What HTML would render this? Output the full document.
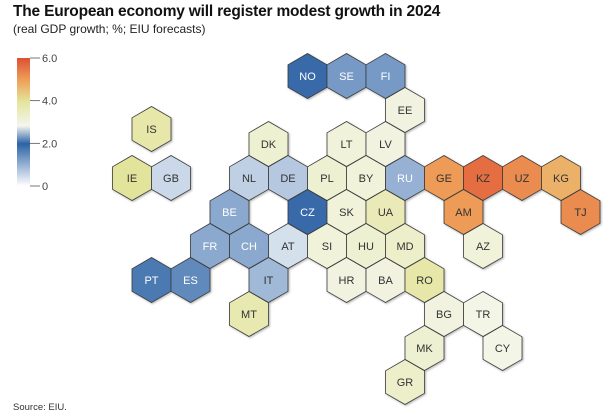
<!DOCTYPE html>
<html><head><meta charset="utf-8">
<style>
body{margin:0;background:#fff;width:612px;height:416px;overflow:hidden;font-family:"Liberation Sans",sans-serif;}
#t{position:absolute;left:13px;top:3px;font-size:15.5px;font-weight:bold;color:#111;letter-spacing:-0.2px}
#s{position:absolute;left:13px;top:22px;font-size:12px;color:#222}
#src{position:absolute;left:13px;top:402px;font-size:9.5px;color:#333}
</style></head><body>
<div id="t">The European economy will register modest growth in 2024</div>
<div id="s">(real GDP growth; %; EIU forecasts)</div>
<div id="src">Source: EIU.</div>
<svg id="svg" width="612" height="416" style="position:absolute;left:0;top:0">
<defs>
<linearGradient id="cb" x1="0" y1="1" x2="0" y2="0">
<stop offset="0" stop-color="#ffffff"/><stop offset="0.33" stop-color="#2c63a6"/>
<stop offset="0.47" stop-color="#f4f6ee"/><stop offset="0.66" stop-color="#e3e49b"/>
<stop offset="0.82" stop-color="#eea35a"/><stop offset="1" stop-color="#de4f35"/>
</linearGradient>
<filter id="sh" x="-20%" y="-20%" width="140%" height="140%"><feDropShadow dx="1" dy="1" stdDeviation="1" flood-opacity="0.3"/></filter>
</defs>
<rect x="17" y="58" width="13" height="128" fill="url(#cb)"/>
<g id="cbt"></g>
<g id="hexes" filter="url(#sh)"></g>
</svg>
<script>
const codes=["NO","SE","FI","EE","IS","DK","LT","LV","IE","GB","NL","DE","PL","BY","RU","GE","KZ","UZ","KG","BE","CZ","SK","UA","AM","TJ","FR","CH","AT","SI","HU","MD","AZ","PT","ES","IT","HR","BA","RO","MT","BG","TR","MK","CY","GR"];
const values=[1.9,1.3,1.3,3.0,3.8,3.2,3.1,3.0,4.0,0.5,0.6,0.7,3.2,3.1,1.0,5.0,5.6,5.2,4.7,1.1,1.9,3.1,3.6,5.0,5.2,1.1,1.1,0.4,3.1,3.2,3.3,3.1,1.7,1.5,0.9,3.0,3.0,3.8,3.7,3.0,2.9,3.2,2.9,3.3];
const cols=[15,17,19,20,7,13,17,19,6,8,12,14,16,18,20,22,24,26,28,11,15,17,19,23,29,10,12,14,16,18,20,24,7,9,13,17,19,21,12,22,24,21,25,20];
const rows=[0,0,0,1,1.56,2,2,2,3,3,3,3,3,3,3,3,3,3,3,4,4,4,4,4,4,5,5,5,5,5,5,5,6,6,6,6,6,6,7,7,7,8,8,9];
const scaleTicks=[0,2,4,6];
const scaleLabels=["0","2.0","4.0","6.0"];
const NS="http://www.w3.org/2000/svg";
const HW=19.5,R=22.5,X0=15,Y0=76,DY=34;
function vy(v){return 186-v/6*128;}
const stops=[[0,[255,255,255]],[2,[44,99,166]],[2.8,[244,246,238]],[4,[227,228,155]],[4.9,[238,163,90]],[6,[222,79,53]]];
function col(v){for(let i=1;i<stops.length;i++){if(v<=stops[i][0]){const a=stops[i-1],b=stops[i],t=(v-a[0])/(b[0]-a[0]);return "rgb("+a[1].map((x,k)=>Math.round(x+(b[1][k]-x)*t)).join(",")+")";}}return "rgb(222,79,53)";}
const g=document.getElementById("hexes");
codes.forEach((c,i)=>{
 const x=X0+cols[i]*HW, y=Y0+rows[i]*DY;
 const pts=[];for(let k=0;k<6;k++){const a=Math.PI/180*(60*k-90);pts.push((x+R*Math.cos(a)).toFixed(1)+","+(y+R*Math.sin(a)).toFixed(1));}
 const p=document.createElementNS(NS,"polygon");
 p.setAttribute("points",pts.join(" "));p.setAttribute("fill",col(values[i]));p.setAttribute("stroke","#3a3a3a");p.setAttribute("stroke-width","0.8");
 
 
 g.appendChild(p);
 const t=document.createElementNS(NS,"text");
 t.setAttribute("x",x);t.setAttribute("y",y+4);t.setAttribute("text-anchor","middle");t.setAttribute("font-size","11");
 t.setAttribute("fill",(values[i]>0.9&&values[i]<2.3)?"#fff":"#333");t.textContent=c;
 
 
 g.appendChild(t);
});
const cb=document.getElementById("cbt");
scaleTicks.forEach((v,i)=>{
 const l=document.createElementNS(NS,"line");l.setAttribute("x1",30);l.setAttribute("x2",40);l.setAttribute("y1",vy(v));l.setAttribute("y2",vy(v));l.setAttribute("stroke","#555");l.setAttribute("stroke-width","0.8");
 
 
 cb.appendChild(l);
 const t=document.createElementNS(NS,"text");t.setAttribute("x",42);t.setAttribute("y",vy(v)+4);t.setAttribute("font-size","11");t.setAttribute("fill","#444");t.textContent=scaleLabels[i];
 
 
 cb.appendChild(t);
});
</script>
</body></html>
